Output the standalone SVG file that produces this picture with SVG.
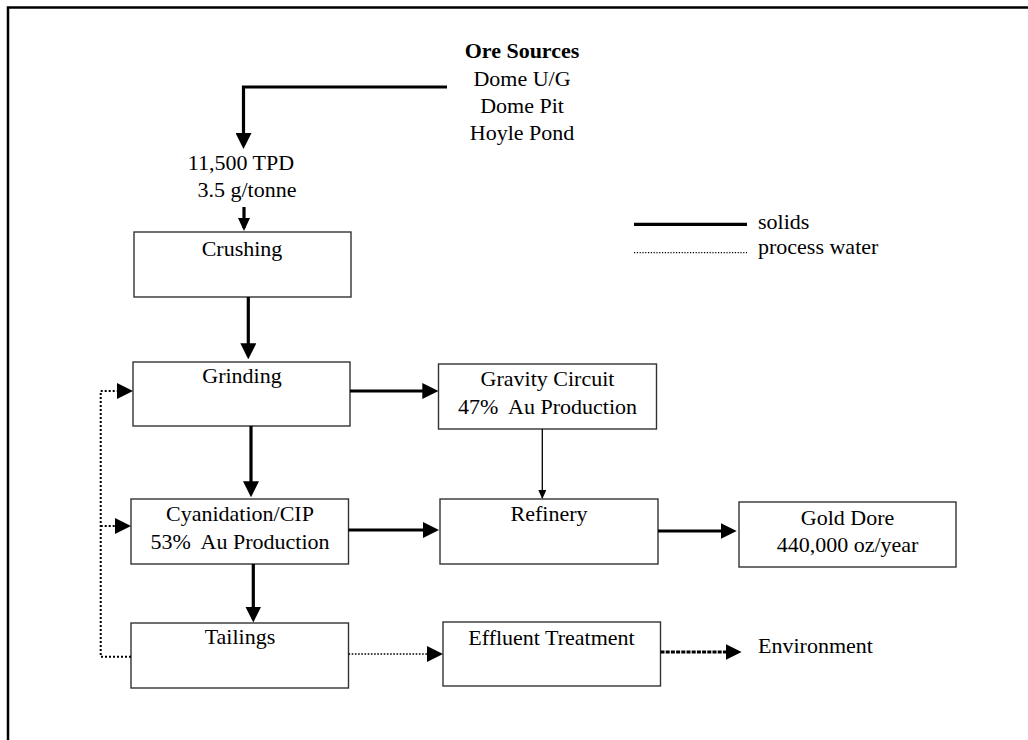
<svg xmlns="http://www.w3.org/2000/svg" width="1028" height="740" viewBox="0 0 1028 740">
<defs>
<style>
text{font-family:"Liberation Serif","Times New Roman",serif;font-size:22px;fill:#000}
.c{text-anchor:middle}
.b{font-weight:bold}
.box{fill:#fff;stroke:#333;stroke-width:1.4}
.solid{fill:none;stroke:#000;stroke-width:3.2}
.thin{fill:none;stroke:#000;stroke-width:1.3}
.dot{fill:none;stroke:#000;stroke-width:2;stroke-dasharray:2 2}
.dotf{fill:none;stroke:#000;stroke-width:1.6;stroke-dasharray:1.6 1.6}
.dash{fill:none;stroke:#000;stroke-width:3;stroke-dasharray:4 1.2}
</style>
<marker id="ah" markerUnits="userSpaceOnUse" markerWidth="16" markerHeight="16" refX="12" refY="8" orient="auto"><path d="M0,0 L16,8 L0,16 Z" fill="#000"/></marker>
<marker id="as" markerUnits="userSpaceOnUse" markerWidth="13" markerHeight="12" refX="10" refY="6" orient="auto"><path d="M0,0 L13,6 L0,12 Z" fill="#000"/></marker>
<marker id="at" markerUnits="userSpaceOnUse" markerWidth="9" markerHeight="8" refX="8" refY="4" orient="auto"><path d="M0,0 L9,4 L0,8 Z" fill="#000"/></marker>
</defs>
<rect width="1028" height="740" fill="#fff"/>
<path d="M8,740 V7.5 H1028" fill="none" stroke="#000" stroke-width="2.5"/>

<g id="ore-sources">
<text class="c b" x="522" y="58">Ore Sources</text>
<text class="c" x="522" y="85.5">Dome U/G</text>
<text class="c" x="522" y="113">Dome Pit</text>
<text class="c" x="522" y="140">Hoyle Pond</text>
</g>
<g id="feed">
<text class="c" x="241" y="170">11,500 TPD</text>
<text class="c" x="247" y="197">3.5 g/tonne</text>
</g>
<g id="legend">
<line class="solid" x1="634" y1="224.3" x2="747" y2="224.3"/>
<text x="758" y="228.5">solids</text>
<line x1="634" y1="252.7" x2="747" y2="252.7" stroke="#000" stroke-width="1.2" stroke-dasharray="1.2 1.6"/>
<text x="758" y="254">process water</text>
</g>
<g id="crushing">
<rect class="box" x="134" y="232" width="217" height="65"/>
<text class="c" x="242" y="256">Crushing</text>
</g>
<g id="grinding">
<rect class="box" x="133" y="362" width="217" height="64"/>
<text class="c" x="242" y="383">Grinding</text>
</g>
<g id="gravity">
<rect class="box" x="438.5" y="364" width="218" height="65"/>
<text class="c" x="547.5" y="386">Gravity Circuit</text>
<text class="c" x="547.5" y="413.5" xml:space="preserve" style="white-space:pre">47%  Au Production</text>
</g>
<g id="cyanidation">
<rect class="box" x="131" y="499" width="217.5" height="65"/>
<text class="c" x="240" y="521">Cyanidation/CIP</text>
<text class="c" x="240" y="548.5" xml:space="preserve" style="white-space:pre">53%  Au Production</text>
</g>
<g id="refinery">
<rect class="box" x="440" y="499" width="218" height="65"/>
<text class="c" x="549" y="521">Refinery</text>
</g>
<g id="gold-dore">
<rect class="box" x="739" y="502" width="217" height="65"/>
<text class="c" x="847.5" y="525">Gold Dore</text>
<text class="c" x="847.5" y="552">440,000 oz/year</text>
</g>
<g id="tailings">
<rect class="box" x="131" y="623" width="217.5" height="65"/>
<text class="c" x="240" y="643.5">Tailings</text>
</g>
<g id="effluent">
<rect class="box" x="443" y="622" width="217.5" height="64"/>
<text class="c" x="551.5" y="644.5">Effluent Treatment</text>
</g>
<g id="environment">
<text x="758" y="653">Environment</text>
</g>

<g id="connectors">
<path class="solid" d="M447,87 H243.5 V145" marker-end="url(#ah)"/>
<path class="solid" d="M244,207 V228" stroke-width="3" marker-end="url(#as)"/>
<path class="solid" d="M248.3,297 V355.3" marker-end="url(#ah)"/>
<path class="solid" d="M350,391 H434.3" marker-end="url(#ah)"/>
<path class="thin" d="M542.3,429 V498" marker-end="url(#at)"/>
<path class="solid" d="M251,426 V493.3" marker-end="url(#ah)"/>
<path class="solid" d="M348.5,530 H435" marker-end="url(#ah)"/>
<path class="solid" d="M658,531 H732.7" marker-end="url(#ah)"/>
<path class="solid" d="M253.3,564 V618.5" marker-end="url(#ah)"/>
<path class="dot" d="M131,656.7 H100.7 V391 H129" marker-end="url(#ah)"/>
<path class="dot" d="M100.7,526 H127" marker-end="url(#ah)"/>
<path class="dotf" d="M348.5,654 H439" marker-end="url(#ah)"/>
<path class="dash" d="M660.5,652 H737.6" marker-end="url(#ah)"/>
</g>
</svg>
